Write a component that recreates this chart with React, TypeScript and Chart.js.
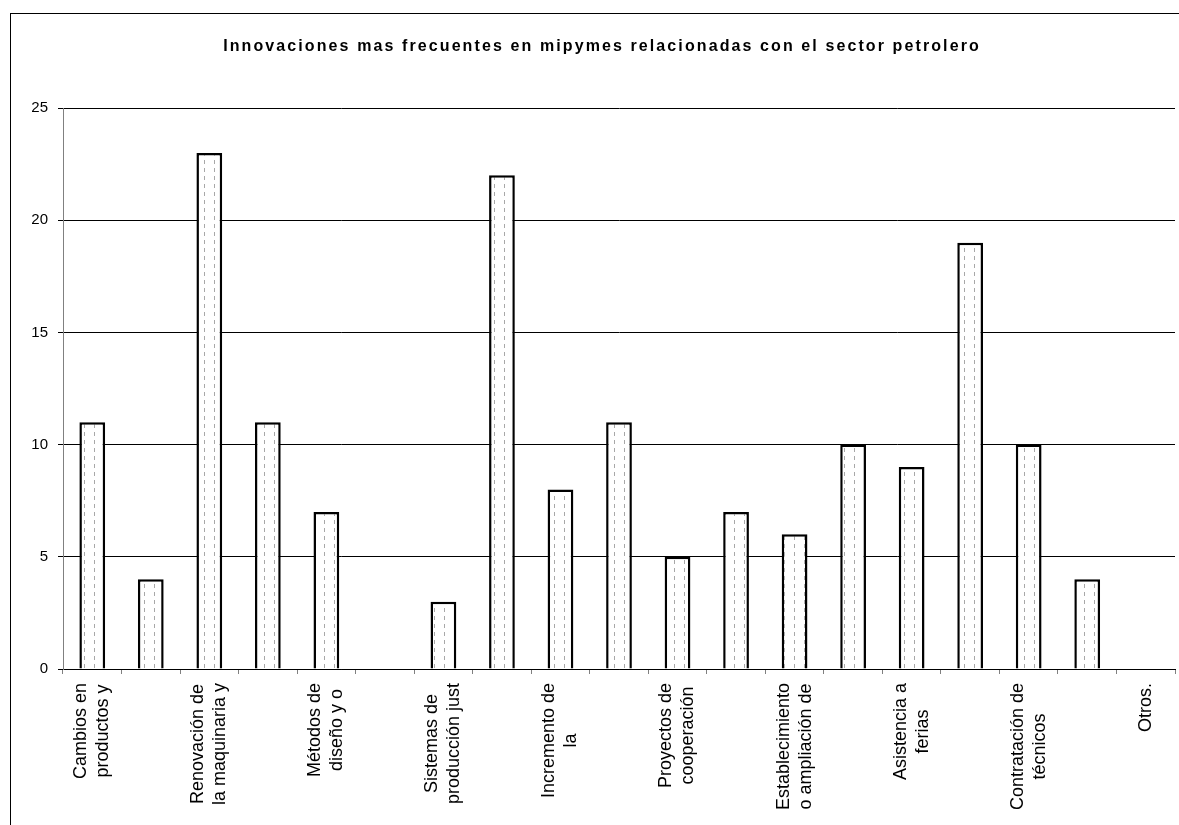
import React, { useEffect, useRef } from "react";
import { Chart, registerables } from "chart.js";

Chart.register(...registerables);

const chartTitle = "Innovaciones mas frecuentes en mipymes relacionadas con el sector petrolero";

const categories: string[][] = [
  ["Cambios en", "productos y"],
  [""],
  ["Renovación de", "la maquinaria y"],
  [""],
  ["Métodos de", "diseño y o"],
  [""],
  ["Sistemas de", "producción just"],
  [""],
  ["Incremento de", "la"],
  [""],
  ["Proyectos de", "cooperación"],
  [""],
  ["Establecimiento", "o ampliación de"],
  [""],
  ["Asistencia a", "ferias"],
  [""],
  ["Contratación de", "técnicos"],
  [""],
  ["Otros."],
];

const values: number[] = [11, 4, 23, 11, 7, 0, 3, 22, 8, 11, 5, 7, 6, 10, 9, 19, 10, 4, 0];

const yTicks: number[] = [0, 5, 10, 15, 20, 25];

const FONT = '"Liberation Sans", Arial, sans-serif';

function makePattern(): CanvasPattern | string {
  const c = document.createElement("canvas");
  c.width = 10;
  c.height = 8;
  const g = c.getContext("2d");
  if (!g) return "#eee";
  g.fillStyle = "#ffffff";
  g.fillRect(0, 0, 10, 8);
  g.fillStyle = "#a8a8a8";
  g.fillRect(4, 0, 1, 4);
  const p = g.createPattern(c, "repeat");
  return p || "#eee";
}

const titlePlugin = {
  id: "customTitle",
  afterDraw(chart: any) {
    const ctx = chart.ctx;
    ctx.save();
    ctx.font = `bold 16px ${FONT}`;
    (ctx as any).letterSpacing = "2.1px";
    ctx.fillStyle = "#000";
    ctx.textAlign = "center";
    ctx.textBaseline = "alphabetic";
    ctx.fillText(chartTitle, 602, 51);
    ctx.restore();
  },
};

const xLabelPlugin = {
  id: "xLabels",
  afterDraw(chart: any) {
    const ctx = chart.ctx;
    const x = chart.scales.x;
    ctx.save();
    ctx.font = `18px ${FONT}`;
    ctx.fillStyle = "#000";
    ctx.textAlign = "center";
    ctx.textBaseline = "middle";
    const lh = 22;
    const top = x.top + 14;
    categories.forEach((lines, i) => {
      if (!lines.join("")) return;
      const w = Math.max(...lines.map((l) => ctx.measureText(l).width));
      const cx = x.getPixelForValue(i);
      ctx.save();
      ctx.translate(cx, top + w / 2);
      ctx.rotate(-Math.PI / 2);
      lines.forEach((l, j) => ctx.fillText(l, 0, (j - (lines.length - 1) / 2) * lh));
      ctx.restore();
    });
    ctx.restore();
  },
};

export default function App() {
  const ref = useRef<HTMLCanvasElement | null>(null);

  useEffect(() => {
    if (!ref.current) return;
    const pattern = makePattern();
    const chart = new Chart(ref.current, {
      type: "bar",
      data: {
        labels: categories.map((c) => c.join(" ")),
        datasets: [
          {
            data: values,
            backgroundColor: pattern as any,
            borderColor: "#000",
            borderWidth: 2.5,
            borderSkipped: "start",
            categoryPercentage: 1,
            barPercentage: 0.44,
          },
        ],
      },
      options: {
        animation: false,
        responsive: false,
        devicePixelRatio: 1,
        layout: { padding: { top: 108, right: 4, left: 0, bottom: 0 } },
        plugins: {
          legend: { display: false },
          title: { display: false },
          tooltip: { enabled: false },
        },
        scales: {
          x: {
            ticks: { display: false },
            grid: {
              drawOnChartArea: false,
              drawTicks: true,
              tickLength: 5,
              color: "#808080",
            },
            border: { color: "#000", width: 1 },
            afterFit: (s: any) => {
              s.height = 825 - 669;
            },
          },
          y: {
            min: 0,
            max: 25,
            afterBuildTicks: (s: any) => {
              s.ticks = yTicks.map((v) => ({ value: v }));
            },
            ticks: {
              color: "#000",
              font: { family: FONT, size: 15 },
              padding: 10,
            },
            grid: { color: "#000", lineWidth: 1, tickLength: 5 },
            border: { color: "#808080", width: 1 },
            afterFit: (s: any) => {
              s.width = 63;
            },
          },
        },
      },
      plugins: [titlePlugin, xLabelPlugin],
    });
    return () => chart.destroy();
  }, []);

  return (
    <div
      style={{
        position: "fixed",
        left: 0,
        top: 0,
        width: 1179,
        height: 825,
        overflow: "hidden",
        background: "#fff",
      }}
    >
      <div
        style={{
          position: "absolute",
          left: 10,
          top: 13,
          width: 1250,
          height: 900,
          border: "1px solid #000",
          boxSizing: "border-box",
        }}
      />
      <canvas
        ref={ref}
        width={1179}
        height={825}
        style={{ position: "absolute", left: 0, top: 0, width: 1179, height: 825 }}
      />
    </div>
  );
}
